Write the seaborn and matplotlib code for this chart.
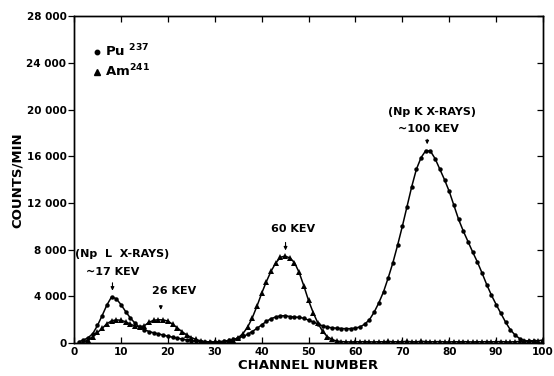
import numpy as np
import pandas as pd
import matplotlib
matplotlib.use("Agg")
import matplotlib.pyplot as plt
from matplotlib.lines import Line2D
import seaborn as sns

# ---- data ----
pu_channel = list(range(1, 99))
pu_counts = [100, 250, 450, 800, 1500, 2350, 3250, 3950, 3800, 3300,
             2700, 2150, 1700, 1350, 1150, 980, 870, 780, 680, 580,
             500, 420, 340, 270, 210, 160, 120, 100, 90, 100,
             120, 160, 220, 300, 420, 560, 740, 980, 1250, 1550,
             1850, 2080, 2230, 2320, 2340, 2270, 2220, 2200, 2120, 1960,
             1800, 1630, 1470, 1370, 1300, 1270, 1240, 1230, 1230, 1280,
             1380, 1620, 2000, 2650, 3450, 4400, 5600, 6900, 8400, 10000,
             11700, 13400, 14900, 15900, 16500, 16450, 15800, 14900, 14000, 13000,
             11800, 10600, 9600, 8700, 7800, 6950, 6000, 5000, 4100, 3300,
             2550, 1800, 1150, 700, 380, 200, 150, 150]

am_channel = list(range(2, 101))
am_counts = [80, 250, 550, 900, 1250, 1650, 1900, 1980, 1950,
             1820, 1620, 1450, 1380, 1480, 1780, 1950, 1990, 1980, 1880,
             1620, 1300, 980, 700, 470, 300, 190, 120, 80, 60,
             60, 80, 130, 250, 450, 800, 1350, 2150, 3150, 4250,
             5250, 6150, 6850, 7350, 7450, 7300, 6900, 6050, 4900, 3650,
             2600, 1700, 1000, 550, 300, 170, 120,
             100, 90, 110, 100, 120, 100, 90, 110, 100, 130,
             110, 100, 120, 130, 110, 100, 140, 120, 100, 110,
             120, 100, 90, 110, 100, 120, 100, 90, 110, 100,
             120, 100, 110, 120, 100, 90, 110, 120, 150, 180,
             200, 200, 250]

series_labels = ["Pu $^{237}$", "Am$^{241}$"]
x_ticks = [0, 10, 20, 30, 40, 50, 60, 70, 80, 90, 100]
x_tick_labels = ["0", "10", "20", "30", "40", "50", "60", "70", "80", "90", "100"]
y_ticks = [0, 4000, 8000, 12000, 16000, 20000, 24000, 28000]
y_tick_labels = ["0", "4 000", "8 000", "12 000", "16 000", "20 000", "24 000", "28 000"]

# ---- style ----
sns.set_style("ticks")
plt.rcParams["font.family"] = ["DejaVu Sans"]
plt.rcParams["font.weight"] = "bold"
plt.rcParams["text.color"] = "black"
plt.rcParams["axes.labelcolor"] = "black"
plt.rcParams["xtick.color"] = "black"
plt.rcParams["ytick.color"] = "black"
plt.rcParams["axes.edgecolor"] = "black"
plt.rcParams["mathtext.fontset"] = "custom"
plt.rcParams["mathtext.bf"] = "DejaVu Sans:bold"
plt.rcParams["mathtext.rm"] = "DejaVu Sans:bold"
plt.rcParams["mathtext.default"] = "bf"

fig = plt.figure(figsize=(5.54, 3.76), dpi=100)
ax = fig.add_axes([0.1336, 0.0878, 0.8466, 0.8684])

pu_df = pd.DataFrame({"channel": pu_channel, "counts": pu_counts})
am_df = pd.DataFrame({"channel": am_channel, "counts": am_counts})

sns.lineplot(data=pu_df, x="channel", y="counts", ax=ax, color="black",
             lw=1.1, marker="o", markersize=3.2, markeredgewidth=0,
             estimator=None)
sns.lineplot(data=am_df, x="channel", y="counts", ax=ax, color="black",
             lw=1.1, marker="^", markersize=4.2, markeredgewidth=0,
             estimator=None)

ax.set_xlim(0, 100)
ax.set_ylim(0, 28000)
ax.set_xticks(x_ticks)
ax.set_xticklabels(x_tick_labels)
ax.set_yticks(y_ticks)
ax.set_yticklabels(y_tick_labels)
for lab in ax.get_xticklabels() + ax.get_yticklabels():
    lab.set_fontweight("bold")
    lab.set_fontsize(7.5)
    lab.set_color("black")

ax.tick_params(axis="y", which="both", direction="out", length=4, width=0.9,
               right=False, pad=1.5, colors="black")
ax.tick_params(axis="x", which="both", direction="in", length=4, width=0.9,
               top=True, pad=3, colors="black")
# right-side inward ticks without labels
ax2 = ax.twinx()
ax2.set_ylim(ax.get_ylim())
ax2.set_yticks(y_ticks)
ax2.tick_params(axis="y", direction="in", length=4, width=0.9, labelright=False,
                colors="black")
for sp in list(ax.spines.values()) + list(ax2.spines.values()):
    sp.set_visible(True)
    sp.set_linewidth(1.0)
    sp.set_color("black")

ax.set_xlabel("CHANNEL NUMBER", fontsize=9.5, fontweight="bold", labelpad=1, color="black")
ax.set_ylabel("COUNTS/MIN", fontsize=9.5, fontweight="bold", labelpad=2, color="black")

# annotations
fs = 8
arrow_kw = dict(arrowstyle="-|>", lw=0.8, color="black", mutation_scale=5)
txt_kw = dict(ha="center", va="center", fontsize=fs, fontweight="bold", color="black")
ax.text(10.3, 7650, "(Np  L  X-RAYS)", **txt_kw)
ax.text(8.2, 6130, "~17 KEV", **txt_kw)
ax.annotate("", xy=(8.2, 4250), xytext=(8.2, 5400), arrowprops=arrow_kw)
ax.text(21.3, 4420, "26 KEV", **txt_kw)
ax.annotate("", xy=(18.5, 2600), xytext=(18.5, 3450), arrowprops=arrow_kw)
ax.text(46.6, 9780, "60 KEV", **txt_kw)
ax.annotate("", xy=(45.1, 7700), xytext=(45.1, 8860), arrowprops=arrow_kw)
ax.text(76.3, 19800, "(Np K X-RAYS)", **txt_kw)
ax.text(75.5, 18350, "~100 KEV", **txt_kw)
ax.annotate("", xy=(75.3, 16800), xytext=(75.3, 17700), arrowprops=arrow_kw)

handles = [Line2D([], [], color="black", marker="o", linestyle="none", markersize=3.2),
           Line2D([], [], color="black", marker="^", linestyle="none", markersize=4.2)]
leg = ax.legend(handles, series_labels, loc="upper left", bbox_to_anchor=(0.027, 0.935),
                frameon=False, fontsize=9.5, handlelength=0.8, handletextpad=0.2,
                labelspacing=0.25, borderaxespad=0)
for t in leg.get_texts():
    t.set_fontweight("bold")
    t.set_color("black")

fig.savefig("out.png", dpi=100)
